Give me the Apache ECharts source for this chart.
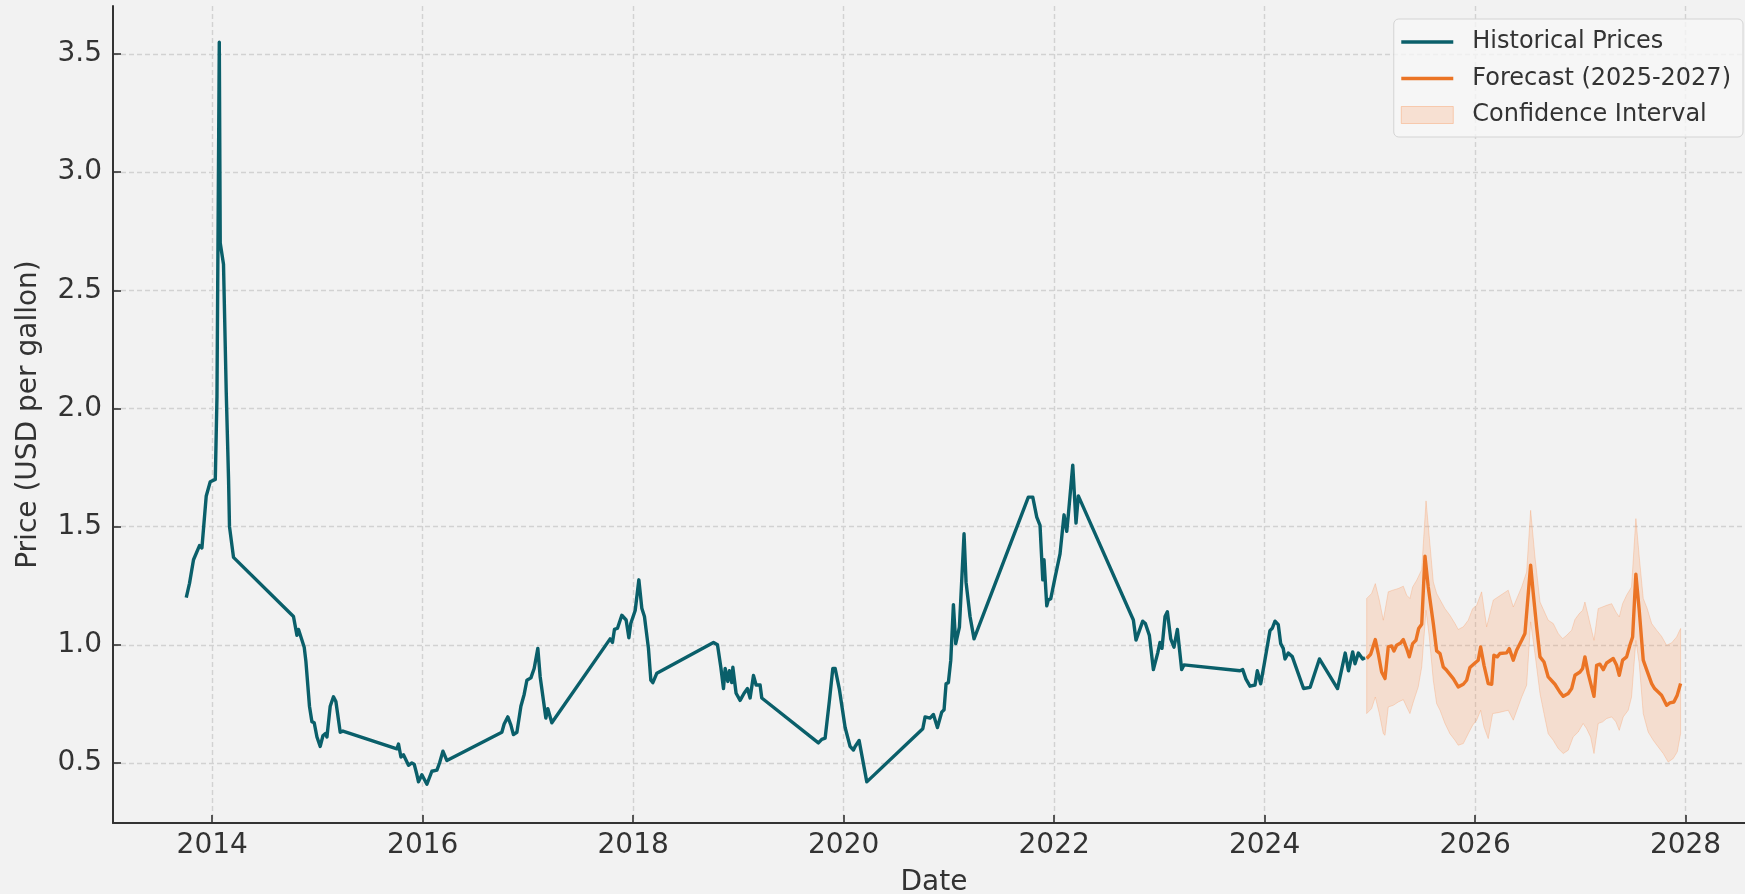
<!DOCTYPE html>
<html>
<head>
<meta charset="utf-8">
<title>Price forecast</title>
<script src="https://cdn.jsdelivr.net/npm/echarts@6/dist/echarts.min.js"></script>
<style>
  html, body { margin: 0; padding: 0; background: #f2f2f2; }
  #chart { width: 1745px; height: 894px; }
</style>
</head>
<body>
<div id="chart"></div>
<script>
// historical weekly prices (decimal year, USD per gallon)
const histYears = [
  2013.753, 2013.784, 2013.822, 2013.879, 2013.902, 2013.943, 2013.981, 2014.029, 2014.045, 2014.067,
  2014.076, 2014.107, 2014.133, 2014.155, 2014.164, 2014.202, 2014.772, 2014.805, 2014.820, 2014.852,
  2014.874, 2014.890, 2014.905, 2014.924, 2014.947, 2014.969, 2014.995, 2015.026, 2015.052, 2015.076,
  2015.090, 2015.121, 2015.152, 2015.175, 2015.216, 2015.242, 2015.755, 2015.770, 2015.793, 2015.817,
  2015.865, 2015.897, 2015.919, 2015.945, 2015.960, 2015.992, 2016.040, 2016.087, 2016.135, 2016.160,
  2016.192, 2016.230, 2016.752, 2016.774, 2016.809, 2016.838, 2016.862, 2016.895, 2016.933, 2016.964,
  2016.990, 2017.028, 2017.059, 2017.094, 2017.116, 2017.147, 2017.170, 2017.189, 2017.227, 2017.781,
  2017.803, 2017.822, 2017.851, 2017.892, 2017.933, 2017.959, 2017.977, 2018.019, 2018.054, 2018.082,
  2018.107, 2018.145, 2018.168, 2018.187, 2018.225, 2018.763, 2018.801, 2018.833, 2018.858, 2018.874,
  2018.899, 2018.915, 2018.937, 2018.947, 2018.978, 2019.016, 2019.054, 2019.086, 2019.111, 2019.143,
  2019.168, 2019.206, 2019.222, 2019.760, 2019.792, 2019.824, 2019.865, 2019.897, 2019.919, 2019.960,
  2020.014, 2020.061, 2020.093, 2020.109, 2020.147, 2020.220, 2020.752, 2020.774, 2020.821, 2020.853,
  2020.891, 2020.932, 2020.954, 2020.973, 2020.995, 2021.018, 2021.043, 2021.065, 2021.100, 2021.144,
  2021.163, 2021.201, 2021.239, 2021.755, 2021.797, 2021.835, 2021.866, 2021.892, 2021.904, 2021.930,
  2021.945, 2021.968, 2022.009, 2022.056, 2022.094, 2022.120, 2022.135, 2022.177, 2022.208, 2022.230,
  2022.753, 2022.778, 2022.842, 2022.867, 2022.905, 2022.943, 2022.984, 2023.006, 2023.025, 2023.054,
  2023.076, 2023.108, 2023.139, 2023.171, 2023.212, 2023.234, 2023.766, 2023.792, 2023.823, 2023.861,
  2023.909, 2023.931, 2023.963, 2023.997, 2024.013, 2024.051, 2024.073, 2024.099, 2024.130, 2024.153,
  2024.177, 2024.194, 2024.225, 2024.263, 2024.370, 2024.433, 2024.521, 2024.693, 2024.766, 2024.797,
  2024.837, 2024.859, 2024.891, 2024.932, 2024.954
];
const histPrices = [
  1.20, 1.26, 1.36, 1.42, 1.41, 1.63, 1.69, 1.70, 2.05, 3.55,
  2.70, 2.61, 2.07, 1.70, 1.50, 1.37, 1.12, 1.04, 1.065, 1.02,
  0.99, 0.93, 0.93, 0.74, 0.675, 0.67, 0.61, 0.57, 0.615, 0.625,
  0.61, 0.74, 0.78, 0.76, 0.63, 0.635, 0.56, 0.58, 0.525, 0.535,
  0.49, 0.50, 0.495, 0.45, 0.42, 0.45, 0.41, 0.465, 0.47, 0.50,
  0.55, 0.51, 0.63, 0.665, 0.695, 0.66, 0.62, 0.63, 0.74, 0.79,
  0.85, 0.86, 0.90, 0.985, 0.865, 0.765, 0.69, 0.73, 0.67, 1.025,
  1.01, 1.065, 1.07, 1.125, 1.105, 1.03, 1.09, 1.145, 1.275, 1.155,
  1.12, 0.985, 0.85, 0.84, 0.88, 1.01, 1.00, 0.905, 0.815, 0.90,
  0.845, 0.89, 0.84, 0.905, 0.795, 0.765, 0.795, 0.815, 0.775, 0.87,
  0.83, 0.83, 0.775, 0.585, 0.60, 0.605, 0.765, 0.90, 0.90, 0.81,
  0.65, 0.57, 0.555, 0.57, 0.595, 0.42, 0.645, 0.695, 0.69, 0.705,
  0.65, 0.715, 0.725, 0.835, 0.84, 0.935, 1.17, 1.005, 1.075, 1.47,
  1.265, 1.12, 1.025, 1.625, 1.625, 1.54, 1.505, 1.275, 1.36, 1.165,
  1.19, 1.195, 1.285, 1.385, 1.55, 1.48, 1.55, 1.76, 1.515, 1.63,
  1.105, 1.02, 1.10, 1.09, 1.04, 0.895, 0.965, 1.01, 0.985, 1.12,
  1.14, 1.025, 0.99, 1.065, 0.895, 0.915, 0.89, 0.895, 0.855, 0.825,
  0.83, 0.89, 0.835, 0.92, 0.92, 1.06, 1.07, 1.10, 1.085, 1.005,
  0.985, 0.94, 0.965, 0.95, 0.815, 0.82, 0.94, 0.815, 0.965, 0.89,
  0.97, 0.92, 0.965, 0.94, 0.945
];

// forecast 2025-2027
const fcYears = [
  2024.970, 2025.008, 2025.052, 2025.080, 2025.112, 2025.144, 2025.175, 2025.207, 2025.229, 2025.255,
  2025.293, 2025.318, 2025.350, 2025.375, 2025.407, 2025.438, 2025.464, 2025.493, 2025.524, 2025.555,
  2025.603, 2025.635, 2025.667, 2025.698, 2025.730, 2025.793, 2025.840, 2025.888, 2025.920, 2025.951,
  2025.999, 2026.030, 2026.053, 2026.085, 2026.125, 2026.158, 2026.179, 2026.211, 2026.236, 2026.300,
  2026.325, 2026.363, 2026.395, 2026.443, 2026.474, 2026.528, 2026.553, 2026.585, 2026.617, 2026.655,
  2026.695, 2026.759, 2026.806, 2026.838, 2026.885, 2026.918, 2026.949, 2026.997, 2027.022, 2027.044,
  2027.075, 2027.130, 2027.155, 2027.186, 2027.218, 2027.250, 2027.313, 2027.345, 2027.370, 2027.402,
  2027.440, 2027.471, 2027.497, 2027.528, 2027.560, 2027.598, 2027.630, 2027.678, 2027.706, 2027.772,
  2027.820, 2027.851, 2027.889, 2027.921, 2027.953
];
const fcPrices = [
  0.942, 0.96, 1.022, 0.963, 0.885, 0.857, 0.991, 0.995, 0.974, 0.998,
  1.008, 1.022, 0.984, 0.949, 1.005, 1.019, 1.069, 1.087, 1.375, 1.245,
  1.09, 0.974, 0.963, 0.906, 0.892, 0.857, 0.822, 0.833, 0.85, 0.904,
  0.923, 0.935, 0.991, 0.913, 0.836, 0.833, 0.956, 0.949, 0.963, 0.966,
  0.984, 0.935, 0.977, 1.019, 1.048, 1.337, 1.217, 1.076, 0.949, 0.927,
  0.864, 0.833, 0.80, 0.782, 0.794, 0.815, 0.871, 0.885, 0.90, 0.949,
  0.878, 0.782, 0.913, 0.918, 0.895, 0.923, 0.942, 0.913, 0.871, 0.935,
  0.949, 0.998, 1.033, 1.299, 1.146, 0.935, 0.895, 0.836, 0.815, 0.787,
  0.744, 0.754, 0.758, 0.787, 0.836
];

// confidence interval bounds
const ciUpperYears = [
  2024.970, 2025.017, 2025.052, 2025.090, 2025.128, 2025.175, 2025.217, 2025.270, 2025.318, 2025.350,
  2025.381, 2025.407, 2025.445, 2025.493, 2025.534, 2025.565, 2025.603, 2025.635, 2025.714, 2025.761,
  2025.809, 2025.840, 2025.888, 2025.935, 2025.977, 2026.015, 2026.062, 2026.110, 2026.173, 2026.220,
  2026.315, 2026.363, 2026.443, 2026.490, 2026.528, 2026.569, 2026.617, 2026.695, 2026.743, 2026.790,
  2026.832, 2026.870, 2026.918, 2026.949, 2026.990, 2027.022, 2027.044, 2027.085, 2027.130, 2027.170,
  2027.250, 2027.298, 2027.338, 2027.370, 2027.402, 2027.440, 2027.487, 2027.528, 2027.560, 2027.598,
  2027.636, 2027.678, 2027.725, 2027.772, 2027.820, 2027.867, 2027.915, 2027.953
];
const ciUpper = [
  1.196, 1.217, 1.259, 1.189, 1.104, 1.224, 1.231, 1.238, 1.248, 1.21,
  1.196, 1.245, 1.273, 1.318, 1.609, 1.456, 1.266, 1.217, 1.153, 1.125,
  1.09, 1.065, 1.076, 1.104, 1.153, 1.167, 1.224, 1.076, 1.189, 1.203,
  1.231, 1.16, 1.245, 1.308, 1.569, 1.372, 1.181, 1.104, 1.09, 1.048,
  1.026, 1.04, 1.062, 1.107, 1.132, 1.146, 1.181, 1.104, 1.019, 1.153,
  1.167, 1.174, 1.139, 1.118, 1.174, 1.21, 1.245, 1.534, 1.372, 1.196,
  1.153, 1.09, 1.062, 1.036, 0.998, 1.008, 1.033, 1.069
];
const ciLowerYears = [
  2024.970, 2025.017, 2025.052, 2025.090, 2025.128, 2025.144, 2025.175, 2025.223, 2025.270, 2025.318,
  2025.350, 2025.381, 2025.413, 2025.460, 2025.493, 2025.534, 2025.565, 2025.603, 2025.635, 2025.667,
  2025.714, 2025.761, 2025.809, 2025.840, 2025.888, 2025.935, 2025.977, 2026.015, 2026.053, 2026.085,
  2026.125, 2026.167, 2026.220, 2026.315, 2026.363, 2026.443, 2026.490, 2026.528, 2026.569, 2026.617,
  2026.655, 2026.695, 2026.743, 2026.790, 2026.838, 2026.885, 2026.932, 2026.980, 2027.027, 2027.059,
  2027.098, 2027.130, 2027.170, 2027.212, 2027.250, 2027.298, 2027.338, 2027.370, 2027.408, 2027.455,
  2027.487, 2027.528, 2027.560, 2027.598, 2027.645, 2027.693, 2027.740, 2027.788, 2027.835, 2027.883,
  2027.921, 2027.953
];
const ciLower = [
  0.709, 0.73, 0.779, 0.709, 0.624, 0.617, 0.737, 0.744, 0.758, 0.768,
  0.737, 0.709, 0.758, 0.822, 0.906, 1.146, 1.033, 0.85, 0.751, 0.723,
  0.667, 0.624, 0.596, 0.575, 0.582, 0.624, 0.66, 0.681, 0.723, 0.652,
  0.603, 0.709, 0.713, 0.723, 0.681, 0.779, 0.829, 1.097, 0.963, 0.794,
  0.709, 0.624, 0.596, 0.561, 0.54, 0.554, 0.61, 0.631, 0.667, 0.646,
  0.61, 0.54, 0.667, 0.674, 0.688, 0.695, 0.674, 0.638, 0.695, 0.723,
  0.779, 1.019, 0.921, 0.709, 0.631, 0.596, 0.568, 0.54, 0.504, 0.519,
  0.547, 0.624
];

const xTicks = [2014, 2016, 2018, 2020, 2022, 2024, 2026, 2028];
const yTicks = [0.5, 1.0, 1.5, 2.0, 2.5, 3.0, 3.5];

const histColor = '#0a5f6a';
const fcColor = '#eb7425';
const bandFill = 'rgba(255, 140, 70, 0.2)';
const bandEdge = 'rgba(250, 150, 90, 0.3)';
const font = 'DejaVu Sans';
const textColor = '#333333';
const gridLine = { color: '#d2d2d2', width: 1.4, type: [5, 3] };

const zip = (xs, ys) => xs.map((x, i) => [x, ys[i]]);

const container = document.getElementById('chart');
const chart = echarts.init(container, null, { renderer: 'canvas', width: 1745, height: 894 });

chart.setOption({
  animation: false,
  backgroundColor: '#f2f2f2',
  textStyle: { fontFamily: font, color: textColor },
  grid: { left: 113, right: -10, top: 6, bottom: 71, outerBoundsMode: 'none' },
  legend: {
    right: 2,
    top: 19,
    orient: 'vertical',
    align: 'left',
    itemWidth: 52,
    itemHeight: 17,
    itemGap: 12.5,
    padding: [11, 12, 10, 7],
    backgroundColor: 'rgba(246, 246, 246, 0.8)',
    borderColor: '#d4d4d4',
    borderWidth: 1,
    borderRadius: 5,
    selectedMode: false,
    textStyle: { fontFamily: font, fontSize: 24, color: textColor, padding: [0, 0, 0, 14] },
    data: [
      { name: 'Historical Prices', icon: 'path://M0,0H52V3.4H0Z', itemStyle: { color: histColor, borderWidth: 0 } },
      { name: 'Forecast (2025-2027)', icon: 'path://M0,0H52V3.4H0Z', itemStyle: { color: fcColor, borderWidth: 0 } },
      { name: 'Confidence Interval', icon: 'rect', itemStyle: { color: bandFill, borderColor: 'rgba(250, 150, 90, 0.4)', borderWidth: 1 } }
    ]
  },
  xAxis: {
    type: 'value',
    min: 2013.057,
    max: 2028.66,
    name: 'Date',
    nameLocation: 'middle',
    nameGap: 46,
    nameTextStyle: { fontFamily: font, fontSize: 28, color: textColor },
    axisLine: { show: true, onZero: false, lineStyle: { color: '#333', width: 2 } },
    axisTick: { show: true, inside: true, length: 8, customValues: xTicks, lineStyle: { color: '#333', width: 1.6 } },
    axisLabel: { customValues: xTicks, margin: 9, fontFamily: font, fontSize: 28, color: textColor, formatter: v => String(v) },
    splitLine: { show: true, lineStyle: gridLine }
  },
  yAxis: {
    type: 'value',
    min: 0.246,
    max: 3.703,
    name: 'Price (USD per gallon)',
    nameLocation: 'middle',
    nameGap: 70,
    nameTextStyle: { fontFamily: font, fontSize: 28, color: textColor },
    axisLine: { show: true, onZero: false, lineStyle: { color: '#333', width: 2 } },
    axisTick: { show: true, inside: true, length: 8, customValues: yTicks, lineStyle: { color: '#333', width: 1.6 } },
    axisLabel: { customValues: yTicks, margin: 11, fontFamily: font, fontSize: 28, color: textColor, formatter: v => v.toFixed(1) },
    splitLine: { show: true, lineStyle: gridLine }
  },
  series: [
    {
      name: 'Confidence Interval',
      type: 'custom',
      z: 1,
      itemStyle: { color: bandFill },
      data: zip(ciUpperYears, ciUpper),
      encode: { x: 0, y: 1 },
      renderItem: function (params, api) {
        if (params.dataIndex !== 0) return null;
        const pts = [];
        for (let i = 0; i < ciUpper.length; i++) pts.push(api.coord([ciUpperYears[i], ciUpper[i]]));
        for (let i = ciLower.length - 1; i >= 0; i--) pts.push(api.coord([ciLowerYears[i], ciLower[i]]));
        return {
          type: 'polygon',
          shape: { points: pts },
          style: { fill: bandFill, stroke: bandEdge, lineWidth: 1 }
        };
      }
    },
    {
      name: 'Historical Prices',
      type: 'line',
      z: 3,
      symbol: 'none',
      data: zip(histYears, histPrices),
      lineStyle: { color: histColor, width: 3.4, join: 'round' },
      itemStyle: { color: histColor }
    },
    {
      name: 'Forecast (2025-2027)',
      type: 'line',
      z: 4,
      symbol: 'none',
      data: zip(fcYears, fcPrices),
      lineStyle: { color: fcColor, width: 3.4, join: 'round' },
      itemStyle: { color: fcColor }
    }
  ]
});
</script>
</body>
</html>
